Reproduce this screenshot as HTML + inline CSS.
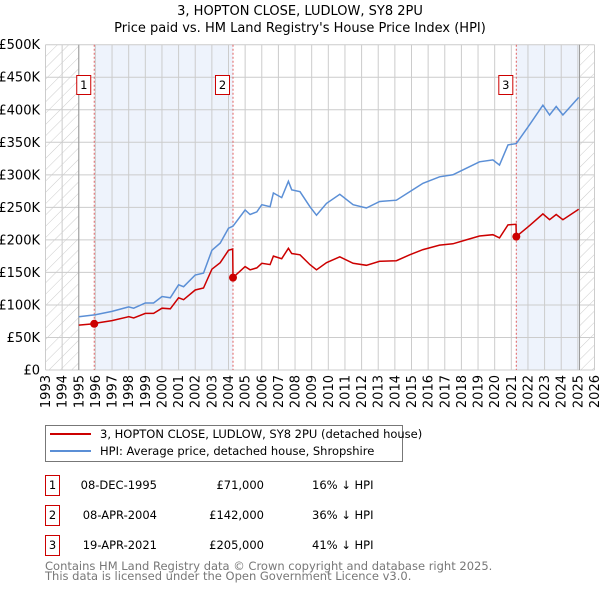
<!DOCTYPE html>
<html><head><meta charset="utf-8"><style>
body{margin:0;background:#fff;}
svg{display:block;font-family:"DejaVu Sans","Liberation Sans",sans-serif;}
</style></head><body>
<svg id="chart" width="600" height="590" viewBox="0 0 600 590">
<defs>
<pattern id="hatch" width="8" height="8" patternUnits="userSpaceOnUse" patternTransform="rotate(45)">
<line x1="0" y1="0" x2="0" y2="8" stroke="#ccc" stroke-width="1"/>
</pattern>
</defs>
<text x="300" y="15" text-anchor="middle" font-size="13" fill="#000">3, HOPTON CLOSE, LUDLOW, SY8 2PU</text>
<text x="300" y="32" text-anchor="middle" font-size="13" fill="#000">Price paid vs. HM Land Registry's House Price Index (HPI)</text>
<g id="plot"></g>
<g>
<rect x="45.5" y="425.5" width="357" height="36" fill="#fff" stroke="#777"/>
<line x1="50" y1="434" x2="91" y2="434" stroke="#cc0000" stroke-width="2"/>
<text x="100" y="438" font-size="11.5">3, HOPTON CLOSE, LUDLOW, SY8 2PU (detached house)</text>
<line x1="50" y1="451" x2="91" y2="451" stroke="#5b8fd6" stroke-width="2"/>
<text x="100" y="455" font-size="11.5">HPI: Average price, detached house, Shropshire</text>
</g>
<g font-size="11.5">
<rect x="45.5" y="475.5" width="14" height="20" fill="#fff" stroke="#cc0000"/><text x="52.5" y="489" text-anchor="middle">1</text>
<text x="157" y="489" text-anchor="end">08-DEC-1995</text><text x="264" y="489" text-anchor="end">£71,000</text><text x="312" y="489">16% ↓ HPI</text>
<rect x="45.5" y="505.5" width="14" height="20" fill="#fff" stroke="#cc0000"/><text x="52.5" y="519" text-anchor="middle">2</text>
<text x="157" y="519" text-anchor="end">08-APR-2004</text><text x="264" y="519" text-anchor="end">£142,000</text><text x="312" y="519">36% ↓ HPI</text>
<rect x="45.5" y="535.5" width="14" height="20" fill="#fff" stroke="#cc0000"/><text x="52.5" y="549" text-anchor="middle">3</text>
<text x="157" y="549" text-anchor="end">19-APR-2021</text><text x="264" y="549" text-anchor="end">£205,000</text><text x="312" y="549">41% ↓ HPI</text>
</g>
<text x="45" y="570" font-size="11.5" fill="#777">Contains HM Land Registry data © Crown copyright and database right 2025.</text>
<text x="45" y="580" font-size="11.5" fill="#777">This data is licensed under the Open Government Licence v3.0.</text>
</svg>
<script>
const hpiYears=[1995,1996,1997,1998,1998.3,1999,1999.5,2000,2000.5,2001,2001.3,2002,2002.5,2003,2003.5,2004,2004.27,2005,2005.3,2005.7,2006,2006.5,2006.7,2007.2,2007.6,2007.8,2008.3,2008.89,2009.29,2009.89,2010.69,2011.49,2012.29,2013.09,2014.09,2014.89,2015.69,2016.69,2017.49,2018.29,2019.09,2019.89,2020.29,2020.8,2021.3,2022.1,2022.9,2023.3,2023.7,2024.1,2025.05];
const hpiValues=[82,85,90,97,95,103,103,113,111,131,128,146,149,184,195,218,221,246,239,243,254,251,272,265,290,277,274,251,238,256,270,254,249,259,261,274,287,297,300,310,320,323,315,346,348,377,407,392,405,392,419];
const propYears=[1995,1995.92,1996,1997,1998,1998.3,1999,1999.5,2000,2000.5,2001,2001.3,2002,2002.5,2003,2003.5,2004,2004.25,2004.27,2005,2005.3,2005.7,2006,2006.5,2006.7,2007.2,2007.6,2007.8,2008.3,2008.89,2009.29,2009.89,2010.69,2011.49,2012.29,2013.09,2014.09,2014.89,2015.69,2016.69,2017.49,2018.29,2019.09,2019.89,2020.29,2020.8,2021.28,2021.3,2022.1,2022.9,2023.3,2023.7,2024.1,2025.05];
const propValues=[69,71,72,76,82,80,87,87,95,94,111,108,123,126,155,165,184,186,142,159,154,157,164,162,175,171,187,179,177,162,154,165,174,164,161,167,168,177,185,192,194,200,206,208,203,223,224,205,222,240,231,239,231,247];
const saleYears=[1995.93,2004.27,2021.3];
const saleValues=[71,142,205];
const saleLabels=["1","2","3"];
const yTicks=[0,50,100,150,200,250,300,350,400,450,500];
const yTickLabels=["£0","£50K","£100K","£150K","£200K","£250K","£300K","£350K","£400K","£450K","£500K"];
const xTicks=[1993,1994,1995,1996,1997,1998,1999,2000,2001,2002,2003,2004,2005,2006,2007,2008,2009,2010,2011,2012,2013,2014,2015,2016,2017,2018,2019,2020,2021,2022,2023,2024,2025,2026];

const NS="http://www.w3.org/2000/svg";
const X0=45.5,X1=594.5,Y0=370,Y1=44.7;
const xs=y=>X0+(y-1993)*(X1-X0)/33;
const ys=v=>Y0-v*(Y0-Y1)/500;
const g=document.getElementById('plot');
function mk(tag,attrs){const e=document.createElementNS(NS,tag);for(const k in attrs)e.setAttribute(k,attrs[k]);g.appendChild(e);return e;}
// shading
let e;
e=mk('rect',{x:xs(saleYears[0]),y:Y1,width:xs(saleYears[1])-xs(saleYears[0]),height:Y0-Y1,fill:'#eef3fc'});


e=mk('rect',{x:xs(saleYears[2]),y:Y1,width:xs(2025.1)-xs(saleYears[2]),height:Y0-Y1,fill:'#eef3fc'});


e=mk('rect',{x:X0,y:Y1,width:xs(1995)-X0,height:Y0-Y1,fill:'url(#hatch)'});


e=mk('rect',{x:xs(2025.1),y:Y1,width:X1-xs(2025.1),height:Y0-Y1,fill:'url(#hatch)'});


// grid
yTicks.forEach((t,i)=>{
 const l=mk('line',{x1:X0,x2:X1,y1:ys(t),y2:ys(t),stroke:'#ccc','stroke-width':1});
 
 
 const tx=mk('text',{x:40,y:ys(t)+4.5,'text-anchor':'end','font-size':13});
 tx.textContent=yTickLabels[i];
 
 
});
xTicks.forEach(t=>{
 const l=mk('line',{x1:xs(t),x2:xs(t),y1:Y1,y2:Y0,stroke:'#ccc','stroke-width':1});
 
 
 const tx=mk('text',{x:0,y:0,'text-anchor':'end','font-size':13,transform:`translate(${xs(t)+4.5},375) rotate(-90)`});
 tx.textContent=String(t);
 
 
});
e=mk('line',{x1:xs(1995),x2:xs(1995),y1:Y1,y2:Y0,stroke:'#999','stroke-width':1});


e=mk('line',{x1:xs(2025.1),x2:xs(2025.1),y1:Y1,y2:Y0,stroke:'#999','stroke-width':1});


// sale vlines
saleYears.forEach((s,i)=>{
 const l=mk('line',{x1:xs(s),x2:xs(s),y1:Y1,y2:Y0,stroke:'#e06060','stroke-width':1,'stroke-dasharray':'2,2'});
 
 
 const r=mk('rect',{x:xs(s)-17.5,y:75.5,width:14,height:19,fill:'#fff',stroke:'#cc0000'});
 
 
 const t=mk('text',{x:xs(s)-10.5,y:89,'text-anchor':'middle','font-size':11.5});
 t.textContent=saleLabels[i];
 
 
});
// lines
const hp=mk('path',{d:hpiYears.map((y,i)=>(i?'L':'M')+xs(y).toFixed(1)+','+ys(hpiValues[i]).toFixed(1)).join(''),fill:'none',stroke:'#5b8fd6','stroke-width':1.5});


const pp=mk('path',{d:propYears.map((y,i)=>(i?'L':'M')+xs(y).toFixed(1)+','+ys(propValues[i]).toFixed(1)).join(''),fill:'none',stroke:'#cc0000','stroke-width':1.5});


saleYears.forEach((s,i)=>{
 const c=mk('circle',{cx:xs(s),cy:ys(saleValues[i]),r:4,fill:'#cc0000'});
 
 
});
</script>
</body></html>
